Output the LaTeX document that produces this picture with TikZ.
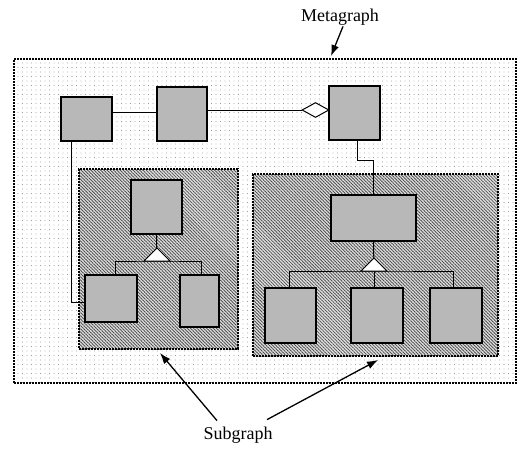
\documentclass[tikz,border=0pt]{standalone}
\usepackage{fontspec}
\setmainfont{Liberation Serif}
\usetikzlibrary{patterns.meta,shapes.geometric,arrows.meta,calc}
\begin{document}
\begin{tikzpicture}[x=1pt,y=-1pt,
 box/.style={draw=black, line width=1.3pt, fill=black!28, inner sep=0pt},
 conn/.style={line width=1pt},
 arr/.style={line width=1.3pt,-{Latex[length=11pt,width=8pt]}},
 lab/.style={font=\fontsize{18}{20}\selectfont, inner sep=1pt},
 frame/.style={draw=black, line width=1.4pt, dash pattern=on 2pt off 1pt, inner sep=0pt},
 metafill/.style={pattern={Dots[distance=4.5pt, radius=0.45pt]}, pattern color=black!60},
 subfill/.style={preaction={fill=black!12}, pattern={Lines[angle=-45, distance=2.3pt, line width=0.85pt]}, pattern color=black!70}]
\fill[white] (0,0) rectangle (524,450);
\useasboundingbox (0,0) rectangle (524,450);

% containers
\node[frame, metafill, minimum width=502pt, minimum height=324pt] (mg) at (265,221) {};
\node[frame, subfill, minimum width=159pt, minimum height=180pt] (s1) at (158.5,259) {};
\node[frame, subfill, minimum width=245pt, minimum height=182pt] (s2) at (375.5,265) {};

% top row boxes
\node[box, minimum width=51pt, minimum height=44pt] (b1) at (86.5,119) {};
\node[box, minimum width=50pt, minimum height=54pt] (b2) at (182,114) {};
\node[box, minimum width=51pt, minimum height=54pt] (b3) at (354.5,113) {};
\node[diamond, draw, line width=1pt, fill=white, minimum width=27pt, minimum height=15pt, inner sep=0pt] (dia) at (315.5,110) {};

% left subgraph boxes
\node[box, minimum width=51pt, minimum height=54pt] (t1) at (156.5,207) {};
\node[box, minimum width=52pt, minimum height=47pt] (l1) at (111,298.5) {};
\node[box, minimum width=39pt, minimum height=52pt] (r1) at (199.5,301) {};
\coordinate (tri1) at (157,261);

% right subgraph boxes
\node[box, minimum width=85pt, minimum height=46pt] (t2) at (373.5,218) {};
\node[box, minimum width=51pt, minimum height=55pt] (m1) at (290.5,315.5) {};
\node[box, minimum width=52pt, minimum height=55pt] (m2) at (377,315.5) {};
\node[box, minimum width=52pt, minimum height=55pt] (m3) at (456,315.5) {};
\coordinate (tri2) at (374,271);

% connectors
\draw[conn] ([yshift=7pt]b1.east) -- ([yshift=2pt]b2.west);
\draw[conn] ([yshift=4pt]b2.east) -- (dia.west);
\draw[conn] ([xshift=-15pt]b1.south) |- ([yshift=-3.5pt]l1.west);
\draw[conn] ([xshift=2.5pt]b3.south) |- ($(t2.north)+(0,-34)$) -- (t2.north);

\draw[conn] (t1.south) -- (tri1);
\draw[conn] ([xshift=4pt]l1.north) |- (tri1) -| ([xshift=1.5pt]r1.north);
\draw[conn, fill=white] ($(tri1)+(-13,0)$) -- ($(tri1)+(0,-13)$) -- ($(tri1)+(13,0)$) -- cycle;

\draw[conn] (t2.south) -- (tri2);
\draw[conn] ([xshift=-1.5pt]m1.north) |- (tri2) -| ([xshift=-3pt]m3.north);
\draw[conn] (tri2) -- (tri2 |- m2.north);
\draw[conn, fill=white] ($(tri2)+(-13,0)$) -- ($(tri2)+(0,-13)$) -- ($(tri2)+(13,0)$) -- cycle;

% labels
\node[lab] (meta) at (340,17) {Metagraph};
\coordinate (metaTip) at (331,56);
\draw[arr] ([xshift=3pt]meta.south) -- (metaTip);

\node[lab] (sub) at (238,435) {Subgraph};
\coordinate (subTipL) at (160,353);
\coordinate (subTipR) at (378,360);
\draw[arr] ([xshift=-21pt,yshift=5pt]sub.north) -- (subTipL);
\draw[arr] ([xshift=29pt,yshift=6pt]sub.north) -- (subTipR);
\end{tikzpicture}
\end{document}
